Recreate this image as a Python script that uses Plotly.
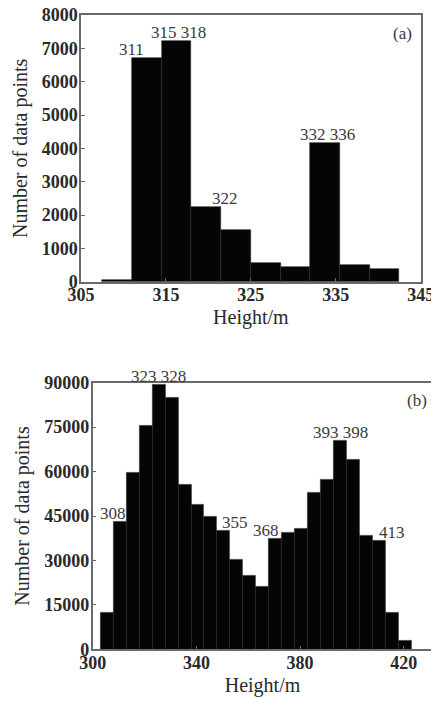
import plotly.graph_objects as go

# ---- Panel (a) data ----
a_bin_start = 307.5
a_bin_width = 3.5
a_counts = [50, 6700, 7220, 2230, 1550, 570, 430, 4170, 500, 370]
a_labels = ["311", "315 318", "322", "332 336"]
a_label_x = [311, 316.5, 322, 334]
a_label_bar = [1, 2, 3, 7]          # index of bar whose top the label sits on
a_xticks = [305, 315, 325, 335, 345]
a_yticks = [0, 1000, 2000, 3000, 4000, 5000, 6000, 7000, 8000]

# ---- Panel (b) data ----
b_bin_start = 303
b_bin_width = 5
b_counts = [12400, 43000, 59600, 75400, 89200, 85000, 55400, 48700, 44700,
            39900, 30400, 24800, 21100, 37200, 39300, 40800, 52900, 57100,
            70300, 64100, 38500, 36500, 12400, 3000]
b_labels = ["308", "323 328", "355", "368", "393 398", "413"]
b_label_x = [308, 325.5, 355, 367, 395.5, 415.5]
b_label_bar = [1, 4, 9, 13, 18, 21]
b_xticks = [300, 340, 380, 420]
b_yticks = [0, 15000, 30000, 45000, 60000, 75000, 90000]

# page body has an 8px margin in the browser
OFF = 8
W, H = 439 - OFF, 702 - OFF
FONT = "Liberation Serif"

def dx(p):
    return (p - OFF) / W

def dy(p):
    return 1 - (p - OFF) / H

def centers(start, width, n):
    return [start + width * (i + 0.5) for i in range(n)]

fig = go.Figure()
fig.add_trace(go.Bar(x=centers(a_bin_start, a_bin_width, len(a_counts)), y=a_counts,
                     width=a_bin_width, marker=dict(color="#050505", line=dict(color="#2a2a2a", width=0.6)),
                     xaxis="x", yaxis="y", showlegend=False))
fig.add_trace(go.Bar(x=centers(b_bin_start, b_bin_width, len(b_counts)), y=b_counts,
                     width=b_bin_width, marker=dict(color="#050505", line=dict(color="#2a2a2a", width=0.6)),
                     xaxis="x2", yaxis="y2", showlegend=False))

axis_common = dict(showline=True, linecolor="#6a6a6a", linewidth=1.5, mirror=True, automargin=False,
                   ticks="inside", ticklen=4, tickcolor="#6a6a6a", showgrid=False, zeroline=False,
                   tickformat="d", ticklabeloverflow="allow",
                   tickfont=dict(family=FONT, size=18, color="#2a2a2a", weight="bold"))
xax = dict(axis_common, ticklabelstandoff=-4)
yax = dict(axis_common, ticklabelstandoff=-2)
title_font = dict(family=FONT, size=20, color="#2a2a2a")

fig.update_layout(
    width=W, height=H, margin=dict(l=0, r=0, t=0, b=0),
    paper_bgcolor="white", plot_bgcolor="white", bargap=0,
    xaxis=dict(domain=[dx(81), dx(420.7)], range=[305, 345], tickvals=a_xticks, anchor="y",
               title=dict(text="Height/m", font=title_font, standoff=6), **xax),
    yaxis=dict(domain=[dy(281.7), dy(15)], range=[0, 8000], tickvals=a_yticks, anchor="x",
               title=dict(text="Number of data points", font=title_font, standoff=9), **yax),
    xaxis2=dict(domain=[dx(92.7), dx(432.3)], range=[300, 431], tickvals=b_xticks, anchor="y2",
                title=dict(text="Height/m", font=title_font, standoff=6), **xax),
    yaxis2=dict(domain=[dy(649.3), dy(382.7)], range=[0, 90000], tickvals=b_yticks, anchor="x2",
                title=dict(text="Number of data points", font=title_font, standoff=9), **yax),
)

ann_font = dict(family=FONT, size=17, color="#3a3a3a")
for t, x, bi in zip(a_labels, a_label_x, a_label_bar):
    fig.add_annotation(x=x, y=a_counts[bi], xref="x", yref="y", text=t, showarrow=False,
                       xanchor="center", yanchor="bottom", font=ann_font, yshift=-3)
for t, x, bi in zip(b_labels, b_label_x, b_label_bar):
    fig.add_annotation(x=x, y=b_counts[bi], xref="x2", yref="y2", text=t, showarrow=False,
                       xanchor="center", yanchor="bottom", font=ann_font, yshift=-3)

fig.add_annotation(x=0.98, y=0.975, xref="x domain", yref="y domain", text="(a)", showarrow=False,
                   xanchor="right", yanchor="top", font=ann_font)
fig.add_annotation(x=0.99, y=0.975, xref="x2 domain", yref="y2 domain", text="(b)", showarrow=False,
                   xanchor="right", yanchor="top", font=ann_font)

fig.write_html("out.html")
